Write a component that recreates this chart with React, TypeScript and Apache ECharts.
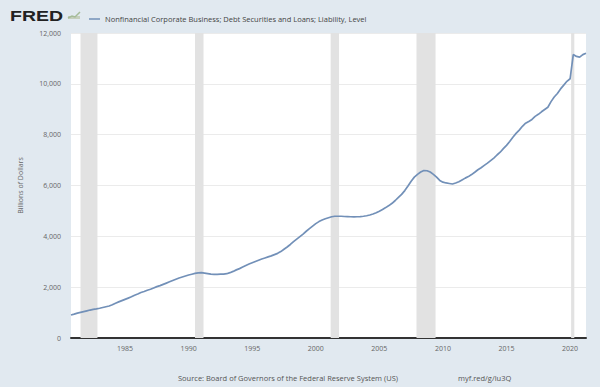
import React, { useEffect, useRef } from "react";
import * as echarts from "echarts";

// Quarterly values (billions of dollars), starting 1980 Q4
const startYear = 1980.75;
const values: number[] = [
  905,
  940, 980, 1010, 1040,
  1070, 1100, 1125, 1145,
  1170, 1200, 1230, 1260,
  1310, 1370, 1420, 1470,
  1520, 1570, 1620, 1680,
  1730, 1790, 1830, 1880,
  1920, 1970, 2020, 2060,
  2110, 2160, 2210, 2260,
  2310, 2360, 2400, 2440,
  2480, 2510, 2540, 2560,
  2570, 2550, 2530, 2510,
  2500, 2505, 2510, 2515,
  2530, 2570, 2620, 2680,
  2730, 2790, 2850, 2910,
  2960, 3010, 3060, 3110,
  3150, 3190, 3230, 3280,
  3330, 3400, 3490, 3580,
  3680, 3790, 3890, 3990,
  4090, 4200, 4300, 4400,
  4500, 4580, 4640, 4690,
  4730, 4770, 4790, 4790,
  4790, 4780, 4775, 4770,
  4765, 4770, 4775, 4790,
  4810, 4840, 4880, 4930,
  4990, 5060, 5130, 5210,
  5300, 5410, 5530, 5650,
  5800, 5980, 6170, 6330,
  6440, 6530, 6590, 6580,
  6530, 6440, 6330, 6200,
  6130, 6100, 6080, 6060,
  6100, 6150, 6220, 6290,
  6350, 6430, 6520, 6620,
  6700, 6790, 6880, 6980,
  7080, 7200, 7310, 7450,
  7580, 7730, 7900, 8050,
  8180, 8330, 8450, 8520,
  8600, 8720, 8800, 8900,
  8990, 9080, 9300, 9480,
  9620, 9800, 9950, 10100,
  10200, 11150, 11080, 11050,
  11150, 11200,
];

const recessionStarts = [1981.5, 1990.5, 2001.17, 2007.92, 2020.08];
const recessionEnds = [1982.83, 1991.17, 2001.83, 2009.42, 2020.33];
const xTickYears = [1985, 1990, 1995, 2000, 2005, 2010, 2015, 2020];
const seriesName =
  "Nonfinancial Corporate Business; Debt Securities and Loans; Liability, Level";

export default function App() {
  const ref = useRef<HTMLDivElement>(null);
  useEffect(() => {
    if (!ref.current) return;
    const chart = echarts.init(ref.current, undefined, { renderer: "svg" });
    const data = values.map((v, i) => [startYear + i * 0.25, v]);
    const xMax = startYear + (values.length - 1) * 0.25;
    const font = "'Open Sans', 'Noto Sans', sans-serif";
    const lineColor = "#7290b8";
    chart.setOption({
      animation: false,
      backgroundColor: "#e1e9f0",
      textStyle: { fontFamily: font },
      grid: {
        left: 71,
        right: 14,
        top: 33,
        bottom: 49,
        show: true,
        backgroundColor: "#ffffff",
        borderWidth: 0,
      },
      legend: {
        left: 84,
        top: 10,
        icon: "rect",
        itemWidth: 11,
        itemHeight: 1.5,
        itemGap: 5,
        textStyle: { fontSize: 7.5, color: "#444", fontFamily: font },
        data: [seriesName],
      },
      xAxis: {
        type: "value",
        min: startYear,
        max: xMax,
        axisLine: { show: true, lineStyle: { color: "#333", width: 2 } },
        axisTick: { show: false },
        splitLine: { show: false },
        axisLabel: {
          customValues: xTickYears,
          fontSize: 7,
          color: "#666",
          margin: 7,
          formatter: (v: number) => String(Math.round(v)),
        },
      },
      yAxis: {
        type: "value",
        min: 0,
        max: 12000,
        interval: 2000,
        name: "Billions of Dollars",
        nameLocation: "middle",
        nameGap: 47,
        nameTextStyle: { fontSize: 7, color: "#666" },
        axisLine: { show: false },
        axisTick: { show: false },
        splitLine: { lineStyle: { color: "#ebebeb", width: 1 } },
        axisLabel: {
          fontSize: 7,
          color: "#666",
          margin: 10,
          formatter: (v: number) => v.toLocaleString("en-US"),
        },
      },
      graphic: [
        {
          type: "text",
          x: 10,
          y: 8,
          scaleX: 1.3,
          style: {
            text: "FRED",
            fontSize: 15,
            fontWeight: 900,
            fontFamily: "'Liberation Sans', Arial, sans-serif",
            fill: "#222",
          },
        },
        {
          type: "rect",
          shape: { x: 68, y: 16, width: 12, height: 3 },
          style: { fill: "#c5cfbd" },
        },
        {
          type: "polyline",
          shape: { points: [[68, 18], [72, 16], [75, 17], [80, 12]] },
          style: { stroke: "#a5bb98", lineWidth: 1.5, fill: "none" },
        },
        {
          type: "text",
          left: 178,
          top: 374,
          style: {
            text: "Source: Board of Governors of the Federal Reserve System (US)",
            fontSize: 7.5,
            fill: "#555",
            fontFamily: font,
          },
        },
        {
          type: "text",
          left: 458,
          top: 374,
          style: {
            text: "myf.red/g/lu3Q",
            fontSize: 7.5,
            fill: "#555",
            fontFamily: font,
          },
        },
      ],
      series: [
        {
          name: seriesName,
          type: "line",
          data,
          showSymbol: false,
          symbol: "none",
          lineStyle: { color: lineColor, width: 1.7 },
          itemStyle: { color: lineColor },
          markArea: {
            silent: true,
            itemStyle: { color: "#e2e2e2" },
            data: recessionStarts.map((s, i) => [
              { xAxis: s },
              { xAxis: recessionEnds[i] },
            ]),
          },
          z: 3,
        },
      ],
    });
    return () => chart.dispose();
  }, []);
  return (
    <div
      ref={ref}
      style={{ position: "fixed", left: 0, top: 0, width: 600, height: 387 }}
    />
  );
}
